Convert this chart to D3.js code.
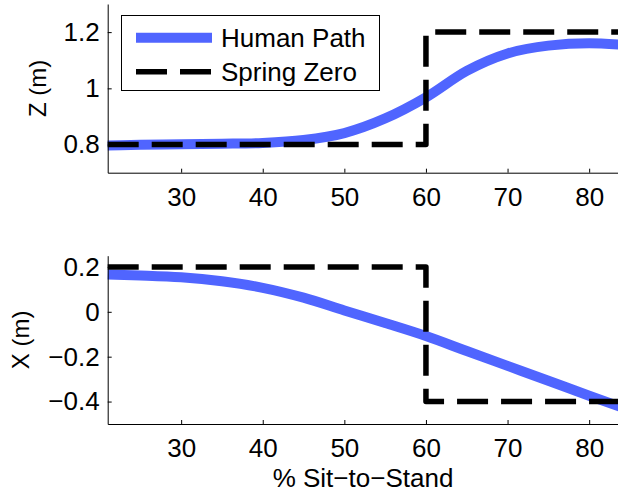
<!DOCTYPE html>
<html>
<head>
<meta charset="utf-8">
<script src="https://cdn.jsdelivr.net/npm/d3@7"></script>
<style>
body { margin: 0; background: #fff; }
svg { display: block; font-family: "Liberation Sans", Arial, Helvetica, sans-serif; }
.axis path, .axis line { stroke: #000; }
.axis text { font-size: 26px; fill: #000; }
</style>
</head>
<body>
<script>
//chart data
var pct = [21, 25, 30, 35, 40, 45, 50, 55, 60, 65, 70, 75, 80, 84];
var humanZ = [0.797, 0.799, 0.801, 0.803, 0.806, 0.816, 0.841, 0.893, 0.968, 1.062, 1.124, 1.152, 1.160, 1.155];
var humanX = [0.166, 0.162, 0.154, 0.136, 0.107, 0.063, 0.006, -0.050, -0.108, -0.175, -0.241, -0.307, -0.374, -0.426];
var springPct = [21, 60, 60, 84];
var springZ = [0.8, 0.8, 1.2, 1.2];
var springX = [0.2, 0.2, -0.4, -0.4];
var zTicks = [0.8, 1, 1.2];
var xTicks = [-0.4, -0.2, 0, 0.2];
var pctTicks = [30, 40, 50, 60, 70, 80];
var legendNames = ["Human Path", "Spring Zero"];

var width = 618, height = 496;
var blue = "#5065ff";

var svg = d3.select("body")
    .append("svg")
    .attr("width", width)
    .attr("height", height);

//shared horizontal scale
var x = d3.scaleLinear()
    .domain([21, 84])
    .range([107.7, 621.8]);

//one panel: y scale, axes, lines
function drawPanel(top, bottom, domain, ticks, human, spring, label, labelX){
    var y = d3.scaleLinear()
        .domain(domain)
        .range([bottom, top]);

    var g = svg.append("g");

    var humanLine = d3.line()
        .x(function(d){ return x(d[0]); })
        .y(function(d){ return y(d[1]); })
        .curve(d3.curveMonotoneX);

    g.append("path")
        .datum(d3.zip(pct, human))
        .attr("d", humanLine)
        .attr("fill", "none")
        .attr("stroke", blue)
        .attr("stroke-width", 10);

    var springLine = d3.line()
        .x(function(d){ return x(d[0]); })
        .y(function(d){ return y(d[1]); });

    g.append("path")
        .datum(d3.zip(springPct, spring))
        .attr("d", springLine)
        .attr("fill", "none")
        .attr("stroke", "#000")
        .attr("stroke-width", 5.5)
        .attr("stroke-linejoin", "round")
        .attr("stroke-dasharray", "31,13");

    //left axis
    g.append("g")
        .attr("class", "axis")
        .attr("transform", "translate(" + x.range()[0] + ",0)")
        .call(d3.axisLeft(y).tickValues(ticks).tickFormat(d3.format("")).tickSizeInner(-4).tickSizeOuter(0).tickPadding(8));

    //bottom axis
    g.append("g")
        .attr("class", "axis")
        .attr("transform", "translate(0," + bottom + ")")
        .call(d3.axisBottom(x).tickValues(pctTicks).tickSizeInner(-4).tickSizeOuter(0).tickPadding(15));

    g.append("text")
        .attr("transform", "translate(" + labelX + "," + (top + bottom) / 2 + ") rotate(-90)")
        .attr("text-anchor", "middle")
        .attr("dy", "0.35em")
        .attr("font-size", 24)
        .text(label);

    return y;
}

drawPanel(4, 172.7, [0.7, 1.3], zTicks, humanZ, springZ, "Z (m)", 38);
drawPanel(255.7, 424, [-0.5, 0.25], xTicks, humanX, springX, "X (m)", 21);

svg.append("text")
    .attr("x", 363)
    .attr("y", 487)
    .attr("text-anchor", "middle")
    .attr("font-size", 26)
    .text("% Sit\u2212to\u2212Stand");

//legend
var legend = svg.append("g");
legend.append("rect")
    .attr("x", 121.5)
    .attr("y", 15.5)
    .attr("width", 258)
    .attr("height", 75)
    .attr("fill", "#fff")
    .attr("stroke", "#000")
    .attr("stroke-width", 1);

legendNames.forEach(function(name, i){
    var ly = 37.7 + i * 34;
    legend.append("line")
        .attr("x1", 136).attr("x2", 212)
        .attr("y1", ly).attr("y2", ly)
        .attr("stroke", i == 0 ? blue : "#000")
        .attr("stroke-width", i == 0 ? 10 : 5.5)
        .attr("stroke-dasharray", i == 0 ? null : "31,13");
    legend.append("text")
        .attr("x", 221)
        .attr("y", ly)
        .attr("dy", "0.35em")
        .attr("font-size", 26)
        .text(name);
});
</script>
</body>
</html>
